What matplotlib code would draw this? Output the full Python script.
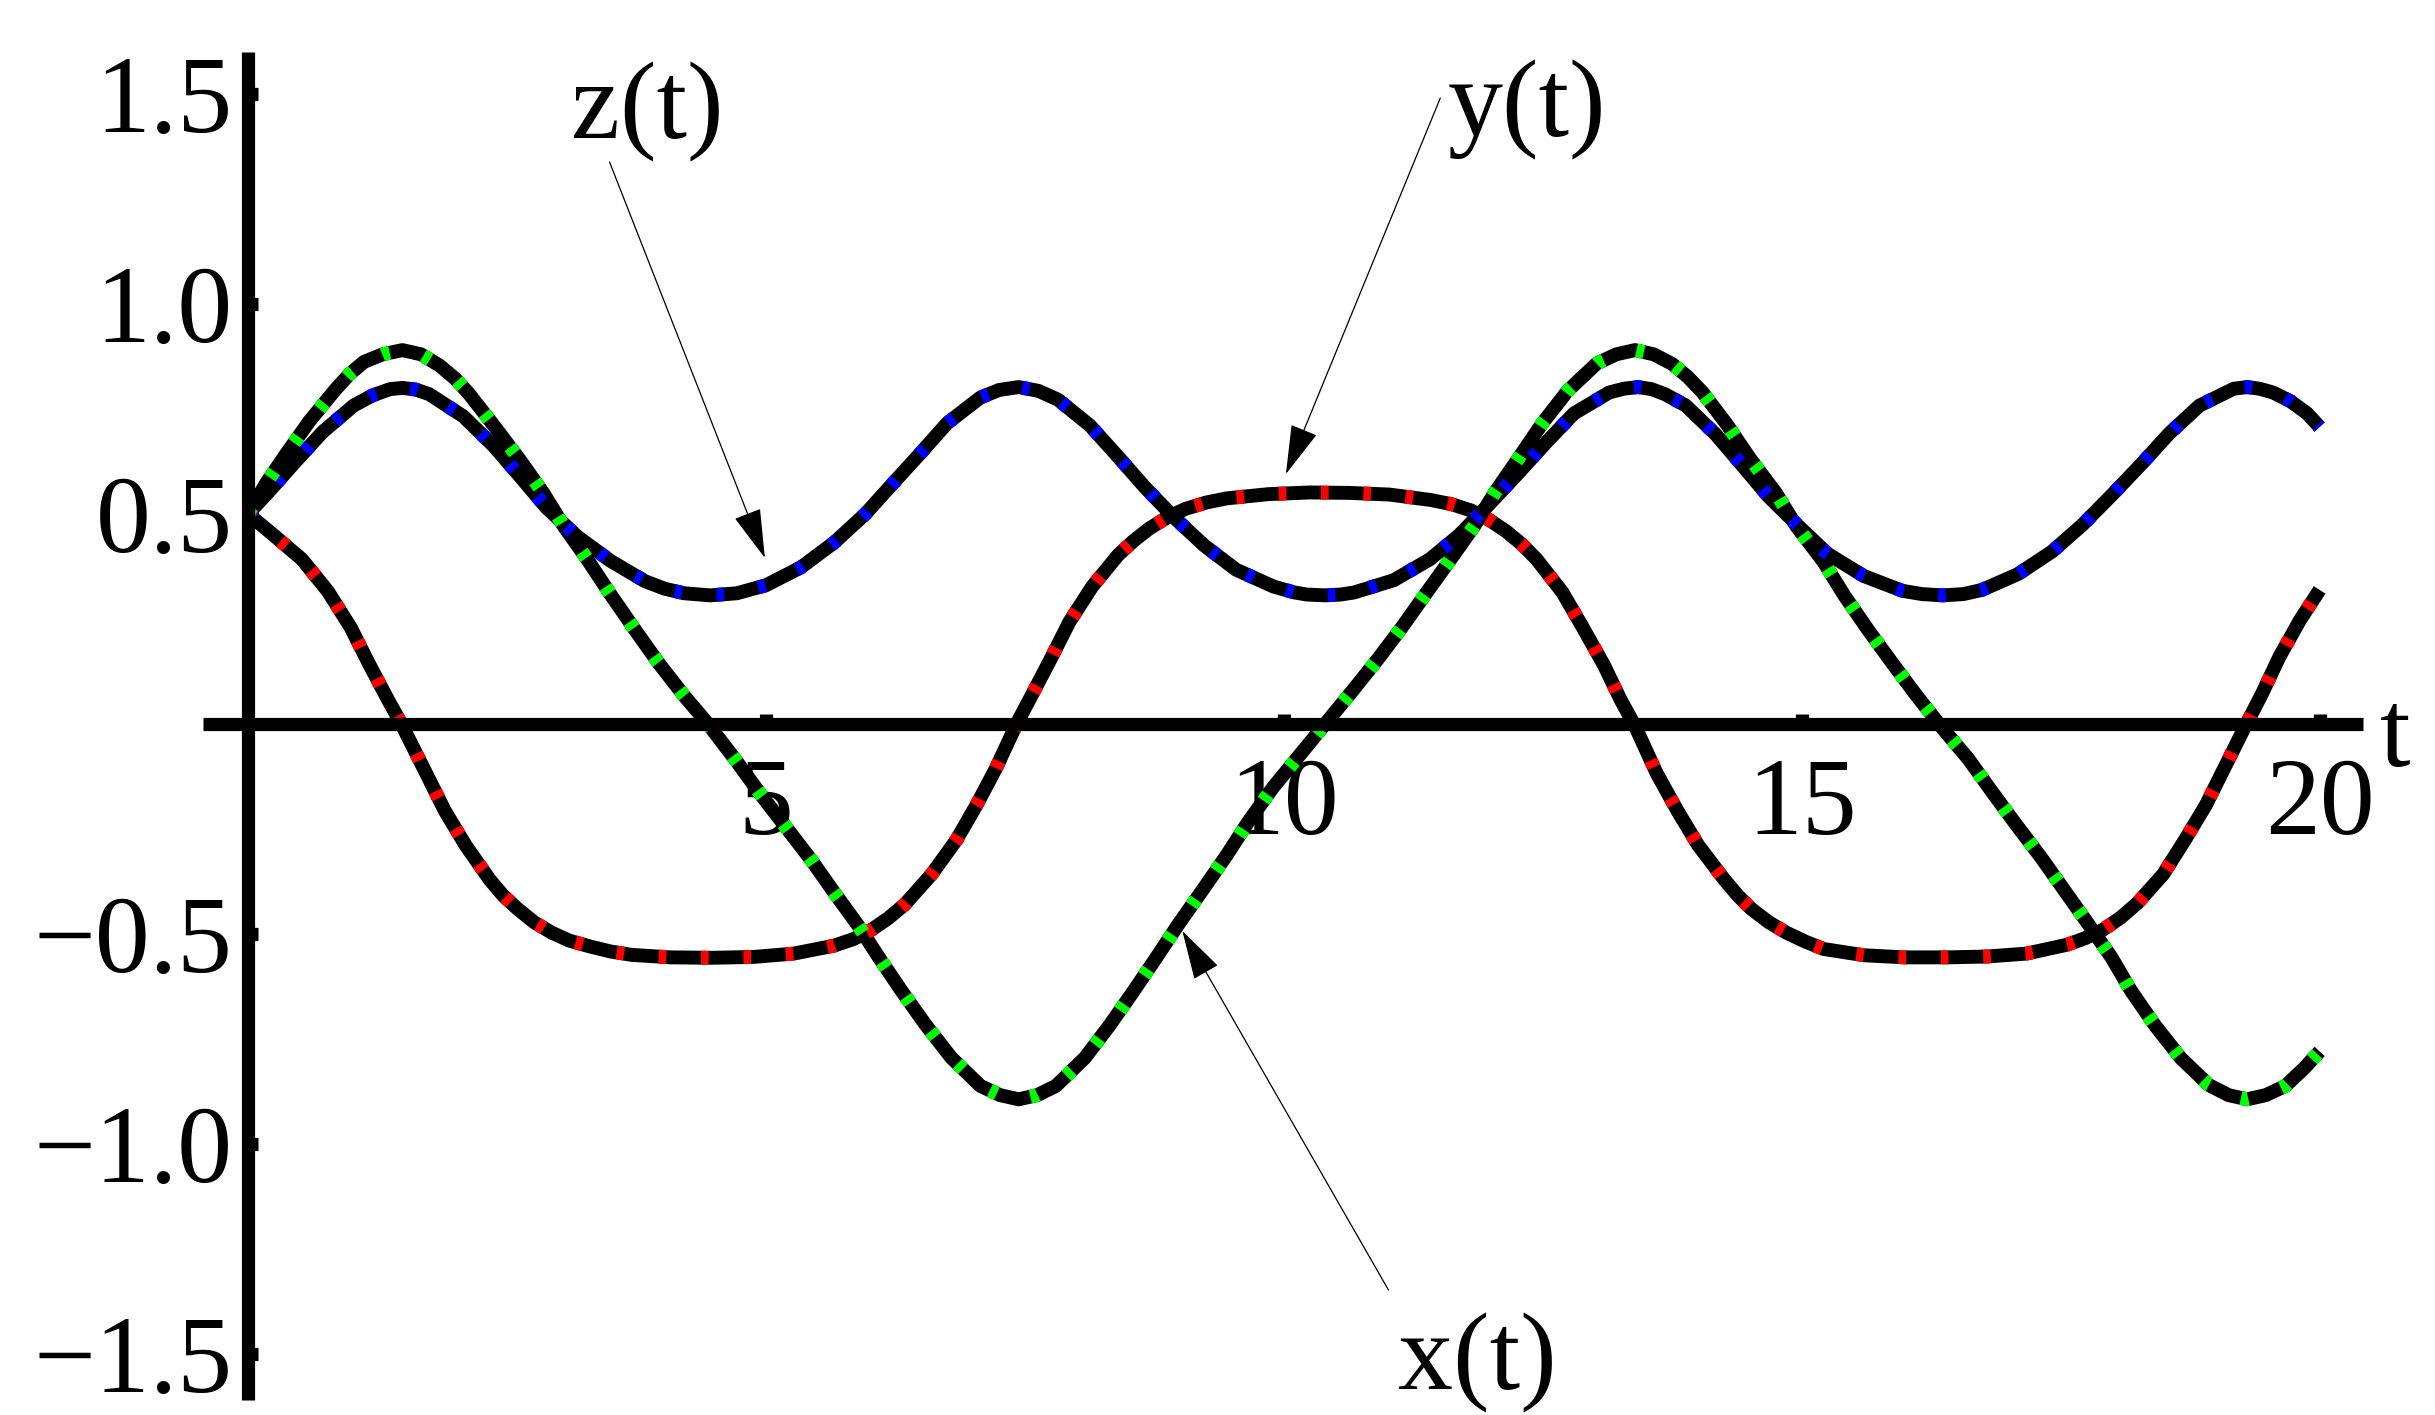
import matplotlib
matplotlib.use("Agg")
import matplotlib.pyplot as plt

# ---------------- data ----------------
t_x = [0.00, 0.18, 0.36, 0.59, 0.84, 0.98, 1.12, 1.30, 1.49, 1.67, 1.85, 2.00, 2.13, 2.38,
       2.62, 2.85, 3.05, 3.28, 3.50, 3.73, 3.96, 4.21, 4.44, 4.71, 4.94, 5.19, 5.44, 5.66,
       5.89, 6.09, 6.31, 6.54, 6.79, 7.07, 7.26, 7.44, 7.62, 7.80, 8.08, 8.32, 8.55, 8.77,
       8.98, 9.22, 9.45, 9.66, 9.90, 10.16, 10.40, 10.66, 10.91, 11.14, 11.37, 11.61, 11.84,
       12.04, 12.27, 12.49, 12.74, 13.02, 13.21, 13.39, 13.57, 13.75, 13.90, 14.04, 14.28,
       14.50, 14.75, 14.95, 15.21, 15.41, 15.64, 15.87, 16.10, 16.34, 16.61, 16.84, 17.07,
       17.31, 17.54, 17.77, 17.99, 18.18, 18.41, 18.66, 18.93, 19.12, 19.30, 19.48, 19.67,
       19.85, 20.00]
x_vals = [0.50, 0.575, 0.64, 0.72, 0.795, 0.833, 0.862, 0.880, 0.89, 0.880, 0.853, 0.822,
          0.787, 0.708, 0.630, 0.550, 0.470, 0.390, 0.308, 0.226, 0.146, 0.067, 0.0, -0.087,
          -0.165, -0.245, -0.325, -0.402, -0.48, -0.556, -0.636, -0.716, -0.795, -0.862,
          -0.884, -0.894, -0.884, -0.862, -0.795, -0.717, -0.636, -0.556, -0.478, -0.394,
          -0.312, -0.232, -0.150, -0.072, 0.0, 0.078, 0.155, 0.230, 0.310, 0.392, 0.472,
          0.552, 0.634, 0.714, 0.793, 0.858, 0.880, 0.89, 0.880, 0.857, 0.826, 0.790, 0.712,
          0.632, 0.550, 0.470, 0.386, 0.306, 0.224, 0.146, 0.070, -0.005, -0.084, -0.163,
          -0.240, -0.318, -0.398, -0.478, -0.556, -0.636, -0.718, -0.796, -0.860, -0.884,
          -0.894, -0.884, -0.862, -0.820, -0.78]

t_y = [0.00, 0.22, 0.52, 0.77, 0.99, 1.17, 1.35, 1.48, 1.72, 1.90, 2.10, 2.33, 2.46, 2.60,
       2.76, 2.93, 3.10, 3.30, 3.50, 3.70, 4.08, 4.48, 4.88, 5.27, 5.66, 5.85, 6.02, 6.18,
       6.34, 6.60, 6.84, 7.04, 7.22, 7.42, 7.57, 7.75, 7.93, 8.15, 8.40, 8.55, 8.70, 8.87,
       9.05, 9.25, 9.45, 9.85, 10.25, 10.63, 11.02, 11.42, 11.62, 11.81, 11.98, 12.15, 12.30,
       12.44, 12.69, 12.89, 13.09, 13.25, 13.39, 13.60, 13.80, 14.00, 14.25, 14.38, 14.51,
       14.68, 14.85, 15.03, 15.21, 15.60, 15.99, 16.40, 16.79, 17.17, 17.56, 17.74, 17.91,
       18.08, 18.24, 18.49, 18.70, 18.90, 19.09, 19.27, 19.44, 19.61, 19.81, 20.00]
y_vals = [0.50, 0.455, 0.392, 0.316, 0.230, 0.142, 0.058, 0.0, -0.118, -0.207, -0.289,
          -0.370, -0.408, -0.440, -0.472, -0.497, -0.516, -0.530, -0.542, -0.550, -0.556,
          -0.557, -0.555, -0.547, -0.528, -0.512, -0.490, -0.463, -0.430, -0.358, -0.276,
          -0.190, -0.106, 0.0, 0.070, 0.155, 0.243, 0.327, 0.402, 0.436, 0.465, 0.491, 0.512,
          0.527, 0.537, 0.547, 0.551, 0.550, 0.546, 0.533, 0.523, 0.508, 0.486, 0.458, 0.427,
          0.392, 0.313, 0.228, 0.140, 0.058, -0.005, -0.118, -0.207, -0.289, -0.370, -0.408,
          -0.440, -0.472, -0.497, -0.518, -0.536, -0.551, -0.556, -0.556, -0.554, -0.547,
          -0.526, -0.510, -0.490, -0.461, -0.427, -0.358, -0.276, -0.194, -0.100, -0.011,
          0.070, 0.159, 0.247, 0.319]

t_z = [0.00, 0.19, 0.46, 0.72, 1.02, 1.20, 1.37, 1.49, 1.62, 1.75, 2.08, 2.37, 2.63, 2.88,
       3.18, 3.50, 3.83, 4.02, 4.21, 4.46, 4.72, 5.00, 5.34, 5.66, 5.96, 6.22, 6.49, 6.75,
       7.07, 7.25, 7.44, 7.63, 7.82, 8.13, 8.40, 8.66, 8.93, 9.23, 9.54, 9.90, 10.10, 10.22,
       10.40, 10.55, 10.68, 11.06, 11.41, 11.69, 11.99, 12.26, 12.54, 12.80, 13.14, 13.28,
       13.42, 13.55, 13.68, 13.88, 14.17, 14.42, 14.68, 14.98, 15.25, 15.60, 15.97, 16.16,
       16.36, 16.56, 16.74, 17.09, 17.42, 17.71, 17.99, 18.28, 18.55, 18.84, 19.17, 19.30,
       19.42, 19.55, 19.72, 19.88, 20.00]
z_vals = [0.50, 0.55, 0.625, 0.695, 0.758, 0.782, 0.797, 0.80, 0.796, 0.785, 0.732, 0.662,
          0.588, 0.515, 0.446, 0.388, 0.340, 0.322, 0.311, 0.306, 0.311, 0.330, 0.373, 0.432,
          0.500, 0.571, 0.644, 0.716, 0.777, 0.795, 0.802, 0.793, 0.772, 0.710, 0.636, 0.563,
          0.494, 0.425, 0.367, 0.327, 0.313, 0.308, 0.306, 0.308, 0.313, 0.342, 0.392, 0.449,
          0.525, 0.596, 0.672, 0.739, 0.789, 0.798, 0.802, 0.797, 0.785, 0.758, 0.689, 0.617,
          0.541, 0.468, 0.405, 0.352, 0.317, 0.309, 0.306, 0.309, 0.319, 0.357, 0.411, 0.474,
          0.544, 0.619, 0.692, 0.758, 0.798, 0.802, 0.798, 0.789, 0.768, 0.739, 0.707]

xtick_vals = [5, 10, 15, 20]
xtick_labels = ["5", "10", "15", "20"]
ytick_vals = [1.5, 1.0, 0.5, -0.5, -1.0, -1.5]
ytick_labels = ["1.5", "1.0", "0.5", "\u22120.5", "\u22121.0", "\u22121.5"]

series = [
    ("y(t)", t_y, y_vals, "#ff0000"),
    ("z(t)", t_z, z_vals, "#0000ff"),
    ("x(t)", t_x, x_vals, "#00ff00"),
]

# labels: (text, text position, arrow start, arrow tip) in data coords
labels = [
    ("z(t)", (3.85, 1.395), (3.49, 1.338), (4.99, 0.395)),
    ("y(t)", (12.35, 1.398), (11.51, 1.49), (10.02, 0.595)),
    ("x(t)", (11.87, -1.586), (11.01, -1.348), (9.02, -0.493)),
]

# ---------------- figure ----------------
plt.rcParams['font.family'] = ['Liberation Serif', 'DejaVu Serif']
FS = 79
LW = 10.0      # curves
ALW = 9.5      # axes

fig = plt.figure(figsize=(24.35, 14.15), dpi=100, facecolor='white')
ax = fig.add_axes([0.0834, 0.0106, 0.8871, 0.9527])
ax.set_xlim(-0.434, 20.42)
ax.set_ylim(-1.61, 1.60)
ax.set_facecolor('white')

for name, t, v, col in series:
    ax.plot(t, v, color='black', lw=LW, solid_capstyle='butt',
            solid_joinstyle='round', zorder=2)
    ax.plot(t, v, color=col, lw=LW, dashes=(0.55, 2.5), dash_capstyle='butt',
            dash_joinstyle='round', zorder=2.1)

for s in ['top', 'right']:
    ax.spines[s].set_visible(False)
for s in ['left', 'bottom']:
    ax.spines[s].set_position(('data', 0))
    ax.spines[s].set_linewidth(ALW)
    ax.spines[s].set_capstyle('butt')
    ax.spines[s].set_zorder(3)

ax.set_xticks(xtick_vals, labels=xtick_labels)
ax.set_yticks(ytick_vals, labels=ytick_labels)
ax.tick_params(axis='both', direction='in', length=7.5, width=ALW, labelsize=FS,
               color='black')
ax.tick_params(axis='x', pad=24)
ax.tick_params(axis='y', pad=11)

ax.text(20.73, -0.10, "t", fontsize=FS, ha='center', va='baseline')

for txt, pos, start, tip in labels:
    ax.text(pos[0], pos[1], txt, fontsize=FS, ha='center', va='baseline')
    ax.annotate('', xy=tip, xytext=start,
                arrowprops=dict(arrowstyle='-|>,head_length=1.6,head_width=0.45',
                                color='black', lw=0.9, mutation_scale=20,
                                shrinkA=0, shrinkB=0))

fig.savefig("out.png", dpi=100, facecolor='white')
